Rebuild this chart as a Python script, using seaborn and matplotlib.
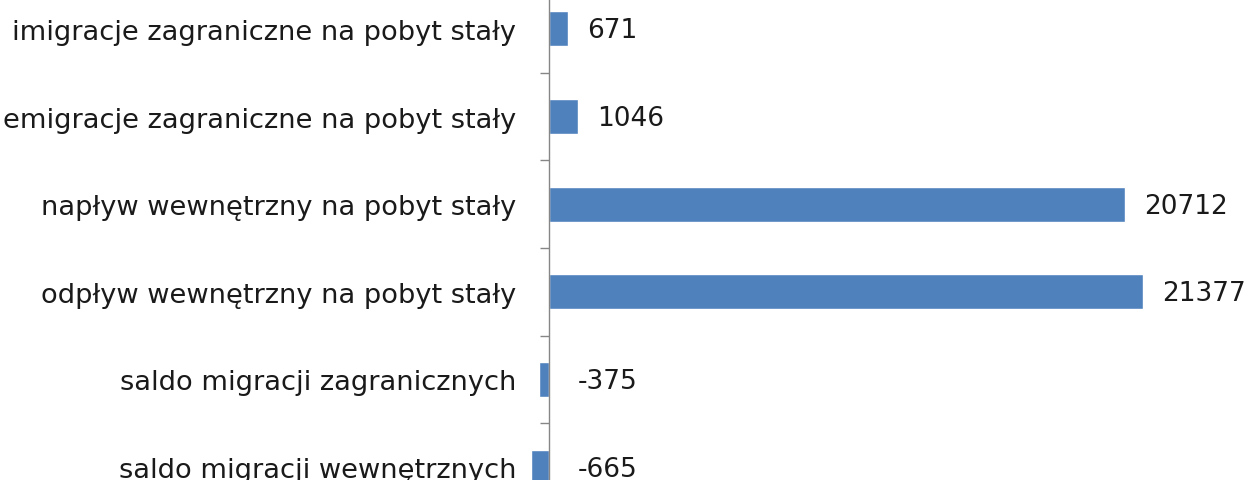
import matplotlib
matplotlib.use("Agg")
import matplotlib.pyplot as plt
import seaborn as sns
import pandas as pd

categories = [
    "imigracje zagraniczne na pobyt stały",
    "emigracje zagraniczne na pobyt stały",
    "napływ wewnętrzny na pobyt stały",
    "odpływ wewnętrzny na pobyt stały",
    "saldo migracji zagranicznych",
    "saldo migracji wewnętrznych",
]
values = [671, 1046, 20712, 21377, -375, -665]

sns.set_theme(style="white")
plt.rcParams["font.family"] = ["DejaVu Sans"]

W, H = 1251, 481
fig = plt.figure(figsize=(W / 100, H / 100), dpi=100)

# layout in pixels
x_zero_px = 549
px_per_unit = (1143 - 549) / 21377
xmin, xmax = -1500, 25000
left_px = x_zero_px + xmin * px_per_unit
right_px = x_zero_px + xmax * px_per_unit
top_px, bottom_px = -14, 512
ax = fig.add_axes([left_px / W, (H - bottom_px) / H,
                   (right_px - left_px) / W, (bottom_px - top_px) / H])

df = pd.DataFrame({"kategoria": categories, "wartosc": values})
sns.barplot(data=df, x="wartosc", y="kategoria", orient="h",
            color="#4F81BD", saturation=1, width=0.4, ax=ax)

ax.set_xlim(xmin, xmax)
ax.set_ylim(len(categories) - 0.5, -0.5)
ax.set_xlabel("")
ax.set_ylabel("")
ax.set_xticks([])

for s in ["top", "right", "bottom"]:
    ax.spines[s].set_visible(False)
ax.spines["left"].set_position(("data", 0))
ax.spines["left"].set_color("#868686")
ax.spines["left"].set_linewidth(1.0)

ax.tick_params(axis="y", which="major", length=0, pad=23.5,
               labelsize=19.6, labelcolor="#1a1a1a")
ax.set_yticks([i + 0.5 for i in range(-1, len(categories))], minor=True)
ax.tick_params(axis="y", which="minor", length=6.5, width=1.0,
               color="#868686", direction="out")
ax.yaxis.set_ticks_position("left")

for i, v in enumerate(values):
    if v >= 0:
        ax.annotate(str(v), xy=(v, i), xytext=(14, -1), textcoords="offset points",
                    va="center", ha="left", fontsize=19, color="#1a1a1a")
    else:
        ax.annotate(str(v), xy=(0, i), xytext=(21, -1), textcoords="offset points",
                    va="center", ha="left", fontsize=19, color="#1a1a1a")

fig.savefig("out.png", dpi=100)
